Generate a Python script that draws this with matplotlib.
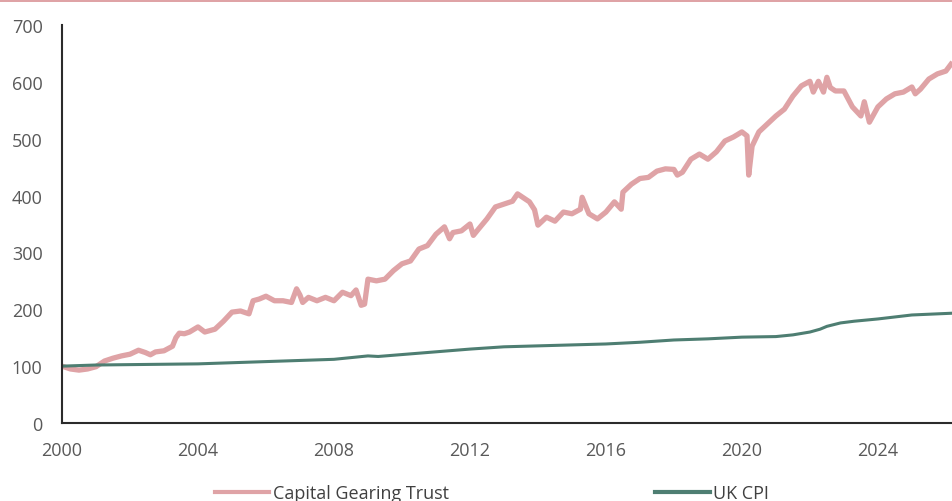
import matplotlib.pyplot as plt
from matplotlib.patches import Rectangle

# Capital Gearing Trust, rebased to 100 at 2000
cgt_years = [2000.0, 2000.25, 2000.5, 2000.75, 2001.0, 2001.25, 2001.5, 2001.75,
             2002.0, 2002.25, 2002.45, 2002.6, 2002.75, 2003.0, 2003.25, 2003.35,
             2003.45, 2003.6, 2003.75, 2004.0, 2004.2, 2004.5, 2004.75, 2005.0,
             2005.25, 2005.5, 2005.62, 2005.8, 2006.0, 2006.25, 2006.5, 2006.75,
             2006.9, 2007.0, 2007.08, 2007.25, 2007.5, 2007.75, 2008.0, 2008.25,
             2008.5, 2008.65, 2008.8, 2008.9, 2009.0, 2009.25, 2009.5, 2009.75,
             2010.0, 2010.25, 2010.5, 2010.75, 2011.0, 2011.25, 2011.4, 2011.5,
             2011.75, 2012.0, 2012.1, 2012.25, 2012.5, 2012.75, 2013.0, 2013.25,
             2013.4, 2013.5, 2013.75, 2013.9, 2014.0, 2014.25, 2014.5, 2014.75,
             2015.0, 2015.25, 2015.3, 2015.5, 2015.75, 2016.0, 2016.25, 2016.45,
             2016.5, 2016.75, 2017.0, 2017.25, 2017.5, 2017.75, 2018.0, 2018.1,
             2018.25, 2018.5, 2018.75, 2019.0, 2019.25, 2019.5, 2019.75, 2020.0,
             2020.15, 2020.2, 2020.3, 2020.5, 2020.75, 2021.0, 2021.25, 2021.5,
             2021.75, 2022.0, 2022.1, 2022.25, 2022.4, 2022.5, 2022.6, 2022.75,
             2023.0, 2023.25, 2023.5, 2023.6, 2023.75, 2024.0, 2024.25, 2024.5,
             2024.75, 2025.0, 2025.1, 2025.25, 2025.5, 2025.75, 2026.0, 2026.15]
cgt_values = [100, 95, 93, 95, 99, 109, 114, 118,
              121, 128, 124, 120, 125, 127, 135, 150,
              158, 157, 160, 169, 160, 165, 179, 195,
              197, 192, 215, 218, 223, 215, 215, 212,
              236, 225, 212, 221, 215, 221, 215, 230,
              224, 234, 207, 209, 253, 250, 253, 268,
              280, 285, 306, 312, 332, 345, 324, 335,
              338, 350, 330, 341, 359, 380, 385, 390,
              403, 399, 389, 375, 348, 362, 355, 371,
              368, 376, 397, 368, 359, 371, 389, 376,
              406, 420, 430, 432, 443, 447, 446, 436,
              441, 464, 473, 464, 477, 496, 503, 512,
              505, 436, 487, 512, 526, 540, 552, 575,
              593, 601, 582, 601, 582, 608, 590, 584,
              584, 556, 540, 565, 529, 556, 570, 579,
              582, 591, 579, 587, 605, 614, 619, 631]

# UK CPI, rebased to 100 at 2000
cpi_years = [2000, 2001, 2004, 2008, 2009, 2009.3, 2012, 2013, 2016, 2017, 2018,
             2019, 2020, 2021, 2021.5, 2022.0, 2022.3, 2022.5, 2022.9, 2023.3,
             2024, 2025, 2026.15]
cpi_values = [100, 102, 104, 112, 118, 117, 130, 134, 139, 142, 146,
              148, 151, 152, 155, 160, 165, 170, 176, 179,
              183, 190, 193]

y_ticks = [0, 100, 200, 300, 400, 500, 600, 700]
x_ticks = [2000, 2004, 2008, 2012, 2016, 2020, 2024]

pink = '#DFA3A6'
green = '#4E7E72'
grey = '#595959'

plt.rcParams['font.family'] = ['Open Sans', 'DejaVu Sans']

fig = plt.figure(figsize=(9.52, 5.02), dpi=100)
ax = fig.add_axes([62 / 952, 78 / 502, 1 - 62 / 952, 398 / 502])

ax.plot(cgt_years, cgt_values, color=pink, lw=3.8, solid_joinstyle='round',
        label='Capital Gearing Trust')
ax.plot(cpi_years, cpi_values, color=green, lw=2.2, label='UK CPI')

ax.set_xlim(2000, 2026.18)
ax.set_ylim(0, 700)
ax.set_xticks(x_ticks)
ax.set_yticks(y_ticks)
ax.tick_params(length=0, labelsize=13, labelcolor=grey)
ax.tick_params(axis='y', pad=14)
ax.tick_params(axis='x', pad=13)

for s in ['top', 'right']:
    ax.spines[s].set_visible(False)
for s in ['left', 'bottom']:
    ax.spines[s].set_color('#2b2b2b')
    ax.spines[s].set_linewidth(1.5)

# thin pink band along the top edge
fig.add_artist(Rectangle((0, 1 - 3 / 502), 1, 3 / 502, transform=fig.transFigure,
                         color=pink, lw=0))

leg = fig.legend(loc='center', bbox_to_anchor=(492 / 952, 8 / 502), ncol=2,
                 frameon=False, fontsize=13, handlelength=3.0, handletextpad=0.2,
                 columnspacing=11.45)
for t in leg.get_texts():
    t.set_color('#404040')
for h in leg.get_lines():
    h.set_linewidth(3)

fig.savefig('out.png', dpi=100)
